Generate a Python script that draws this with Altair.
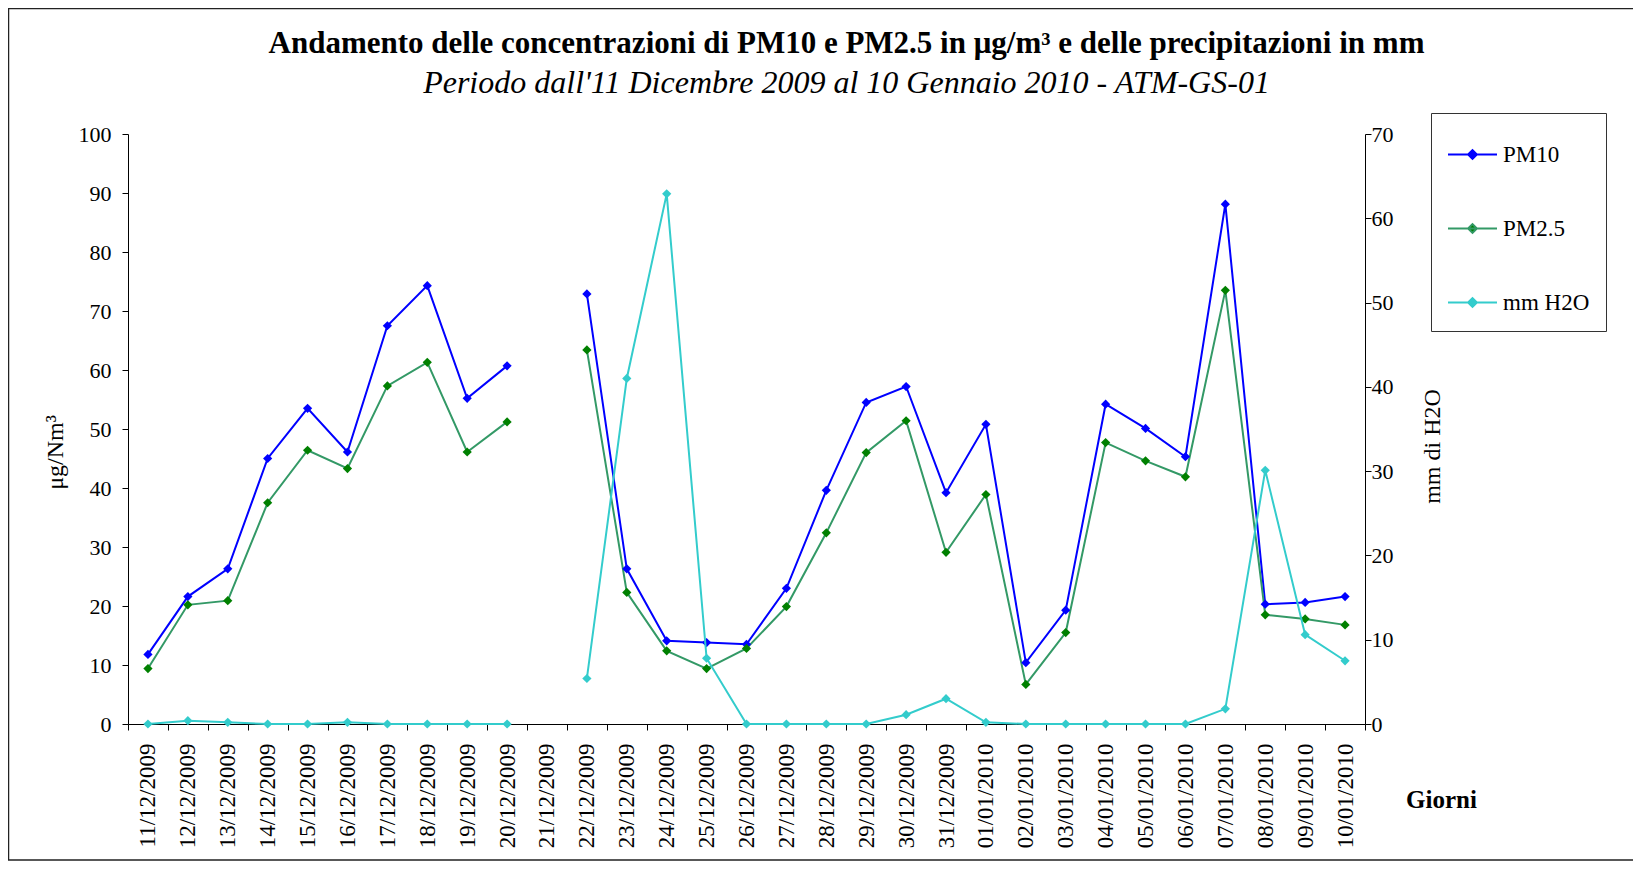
import altair as alt
import pandas as pd

days = ["11/12/2009", "12/12/2009", "13/12/2009", "14/12/2009", "15/12/2009", "16/12/2009",
        "17/12/2009", "18/12/2009", "19/12/2009", "20/12/2009", "21/12/2009", "22/12/2009",
        "23/12/2009", "24/12/2009", "25/12/2009", "26/12/2009", "27/12/2009", "28/12/2009",
        "29/12/2009", "30/12/2009", "31/12/2009", "01/01/2010", "02/01/2010", "03/01/2010",
        "04/01/2010", "05/01/2010", "06/01/2010", "07/01/2010", "08/01/2010", "09/01/2010",
        "10/01/2010"]
pm10 = [11.8, 21.6, 26.3, 45.0, 53.5, 46.1, 67.5, 74.3, 55.2, 60.7, None, 72.9,
        26.3, 14.1, 13.8, 13.5, 23.0, 39.6, 54.5, 57.2, 39.2, 50.8, 10.4, 19.3,
        54.2, 50.1, 45.3, 88.1, 20.3, 20.6, 21.6]
pm25 = [9.4, 20.2, 20.9, 37.5, 46.4, 43.3, 57.3, 61.3, 46.1, 51.2, None, 63.4,
        22.3, 12.4, 9.4, 12.8, 19.9, 32.4, 46.0, 51.4, 29.1, 38.9, 6.7, 15.5,
        47.7, 44.6, 41.9, 73.5, 18.5, 17.8, 16.8]
mm_h2o = [0.0, 0.4, 0.2, 0.0, 0.0, 0.2, 0.0, 0.0, 0.0, 0.0, None, 5.4,
          41.0, 62.9, 7.8, 0.0, 0.0, 0.0, 0.0, 1.1, 3.0, 0.2, 0.0, 0.0,
          0.0, 0.0, 0.0, 1.8, 30.1, 10.6, 7.5]

series_names = ["PM10", "PM2.5", "mm H2O"]
line_colors = ["#0000FF", "#339966", "#33CCCC"]
marker_colors = ["#0000FF", "#008000", "#33CCCC"]

title_text = "Andamento delle concentrazioni di PM10 e PM2.5 in \u03bcg/m\u00b3 e delle precipitazioni in mm"
subtitle_text = "Periodo dall'11 Dicembre 2009 al 10 Gennaio 2010 - ATM-GS-01"

rows = []
for name, vals in zip(series_names, [pm10, pm25, mm_h2o]):
    seg = 0
    for d, v in zip(days, vals):
        if v is None:
            seg += 1
            continue
        rows.append({"giorno": d, "serie": name, "valore": v, "tratto": f"{name}-{seg}"})
df = pd.DataFrame(rows)

FONT = "Liberation Serif"

x_enc = alt.X(
    "giorno:N",
    sort=days,
    scale=alt.Scale(type="band", domain=days, paddingInner=0, paddingOuter=0),
    axis=alt.Axis(
        title="Giorni", titleFont=FONT, titleFontSize=25, titleFontWeight="bold",
        titleX=1313, titleY=75, titleAlign="center", titleBaseline="middle",
        labelAngle=270, labelAlign="right", labelBaseline="middle",
        labelFont=FONT, labelFontSize=23, labelPadding=13,
        tickBand="extent", tickSize=6, labelColor="black",
        domainColor="black", tickColor="black",
    ),
)

legend = alt.Legend(
    title=None, orient="none", legendX=1303, legendY=-21,
    direction="vertical",
    labelFont=FONT, labelFontSize=23, labelColor="black", labelOffset=5,
    symbolType="M-1,0H1M-0.18,0L0,-0.18L0.18,0L0,0.18Z",
    symbolSize=2401, symbolStrokeWidth=2,
    padding=16, rowPadding=36,
    strokeColor="#333333", fillColor="white",
)

stroke_enc = alt.Stroke("serie:N", scale=alt.Scale(domain=series_names, range=line_colors), legend=legend)
fill_enc = alt.Fill("serie:N", scale=alt.Scale(domain=series_names, range=marker_colors), legend=legend)

y_left = alt.Y(
    "valore:Q",
    scale=alt.Scale(domain=[0, 100]),
    axis=alt.Axis(
        title="\u03bcg/Nm\u00b3", titleFont=FONT, titleFontSize=24, titleFontWeight="normal",
        titleX=-73, titleY=318, titleAngle=270, titleAlign="center", titleBaseline="middle",
        values=list(range(0, 101, 10)), labelFont=FONT, labelFontSize=22, labelColor="black",
        tickSize=6, labelPadding=11, grid=False, domainColor="black", tickColor="black",
    ),
)
y_right = alt.Y(
    "valore:Q",
    scale=alt.Scale(domain=[0, 70]),
    axis=alt.Axis(
        orient="right",
        title="mm di H2O", titleFont=FONT, titleFontSize=24, titleFontWeight="normal",
        titleX=67, titleY=312, titleAngle=270, titleAlign="center", titleBaseline="middle",
        values=list(range(0, 71, 10)), labelFont=FONT, labelFontSize=22, labelColor="black",
        tickSize=6, labelPadding=0, grid=False, domainColor="black", tickColor="black",
    ),
)

base = alt.Chart(df)
pm_data = base.transform_filter(alt.datum.serie != "mm H2O")
mm_data = base.transform_filter(alt.datum.serie == "mm H2O")

frame = alt.Chart(alt.Data(values=[{"k": 1}])).mark_rect(
    fill=None, fillOpacity=0, stroke="#222222", strokeWidth=1.5
).encode(
    x=alt.value(-119.5), x2=alt.value(1700), y=alt.value(-125.5), y2=alt.value(726)
)

pm_line = pm_data.mark_line(strokeWidth=2).encode(x=x_enc, y=y_left, stroke=stroke_enc, detail="tratto:N")
pm_point = pm_data.mark_point(shape="diamond", filled=True, size=85, opacity=1).encode(x=x_enc, y=y_left, fill=fill_enc)
mm_line = mm_data.mark_line(strokeWidth=2).encode(x=x_enc, y=y_right, stroke=stroke_enc, detail="tratto:N")
mm_point = mm_data.mark_point(shape="diamond", filled=True, size=85, opacity=1).encode(x=x_enc, y=y_right, fill=fill_enc)

pm = alt.layer(frame, pm_line, pm_point)
mm = alt.layer(mm_line, mm_point)

chart = alt.layer(pm, mm).resolve_scale(y="independent").properties(
    width=1237, height=590,
    padding={"left": 120, "top": 126, "right": 268, "bottom": 137},
    autosize=alt.AutoSizeParams(type="none"),
    background="white",
    title=alt.TitleParams(
        text=title_text, subtitle=subtitle_text,
        font=FONT, fontSize=31, fontWeight="bold", color="black",
        subtitleFont=FONT, subtitleFontSize=32, subtitleFontStyle="italic", subtitleColor="black",
        subtitlePadding=8, anchor="middle", frame="group", dx=100, dy=112, offset=20,
    ),
).configure_view(strokeWidth=0, stroke="transparent")

chart.save("out.html", embed_options={"renderer": "svg", "actions": False})
